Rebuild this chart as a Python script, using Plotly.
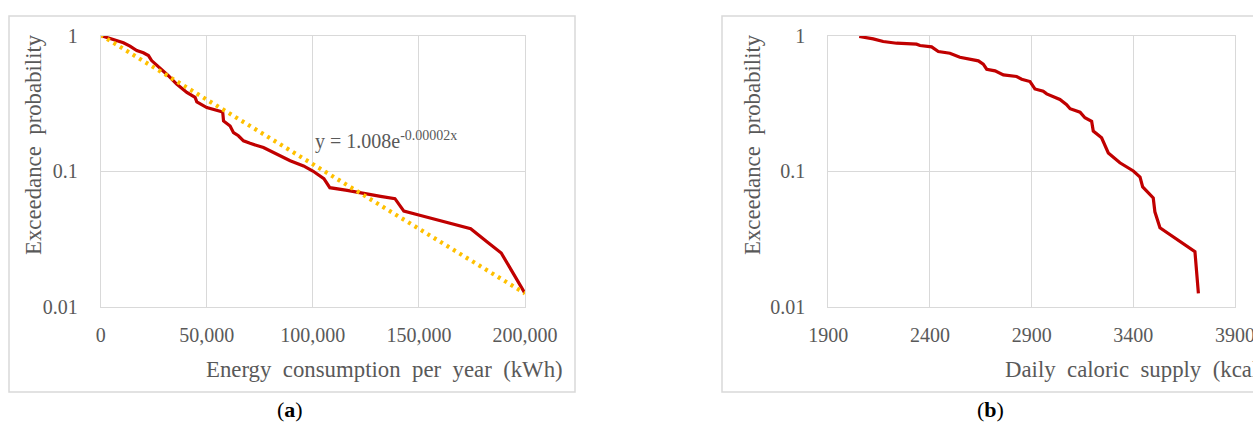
import plotly.graph_objects as go

W, H = 1253, 426

# Panel (a): energy consumption exceedance curve
energy_kwh = [0, 4400, 7550, 10700, 13800, 17000, 20100, 22500, 24000, 26400, 28800, 31900,
              35800, 40600, 44500, 45300, 50000, 55500, 57500, 57900, 61000, 62600, 64900,
              67300, 70400, 76700, 83000, 89300, 95600, 100000, 105200, 108000, 116200,
              122500, 131900, 138700, 142900, 150800, 163400, 174400, 182200, 188800, 200000]
energy_prob = [1.0, 0.955, 0.918, 0.883, 0.834, 0.774, 0.745, 0.711, 0.653, 0.606, 0.566, 0.505,
               0.438, 0.380, 0.349, 0.324, 0.294, 0.278, 0.273, 0.234, 0.215, 0.192, 0.182,
               0.167, 0.160, 0.149, 0.133, 0.119, 0.109, 0.100, 0.0878, 0.0753, 0.0720,
               0.0688, 0.0650, 0.0625, 0.0506, 0.0470, 0.0415, 0.0375, 0.0299, 0.0248, 0.0125]
# exponential trendline (straight on log axis) endpoints
trend_x = [0, 200000]
trend_y = [1.008, 0.0125]
trend_label = "y = 1.008e<sup>-0.00002x</sup>"

# Panel (b): daily caloric supply exceedance curve
kcal = [2052, 2121, 2170, 2236, 2334, 2351, 2408, 2441, 2498, 2547, 2638, 2662, 2679, 2720,
        2761, 2826, 2851, 2892, 2916, 2957, 2974, 3039, 3072, 3089, 3138, 3162, 3195, 3203,
        3244, 3261, 3277, 3334, 3400, 3433, 3446, 3498, 3506, 3531, 3703, 3720]
kcal_prob = [0.983, 0.945, 0.903, 0.877, 0.863, 0.844, 0.825, 0.762, 0.740, 0.691, 0.650, 0.614,
             0.564, 0.548, 0.512, 0.498, 0.476, 0.457, 0.403, 0.388, 0.371, 0.337, 0.309, 0.288,
             0.272, 0.247, 0.233, 0.197, 0.176, 0.153, 0.136, 0.115, 0.100, 0.0903, 0.0763,
             0.0632, 0.0500, 0.0381, 0.0254, 0.0125]

y_ticks = [0.01, 0.1, 1]
y_tick_text = ["0.01", "0.1", "1"]
xa_ticks = [0, 50000, 100000, 150000, 200000]
xa_tick_text = ["0", "50,000", "100,000", "150,000", "200,000"]
xb_ticks = [1900, 2400, 2900, 3400, 3900]
xb_tick_text = ["1900", "2400", "2900", "3400", "3900"]

RED = "#C00000"
ORANGE = "#FFC000"
GRID = "#D9D9D9"
TXT = "#595959"
FONT = "Liberation Serif"


def px(x):
    return x / W


def py(y):
    return 1 - y / H


fig = go.Figure()
fig.add_trace(go.Scatter(x=energy_kwh, y=energy_prob, mode="lines",
                         line=dict(color=RED, width=3.2), xaxis="x", yaxis="y",
                         showlegend=False, hoverinfo="skip"))
fig.add_trace(go.Scatter(x=trend_x, y=trend_y, mode="lines",
                         line=dict(color=ORANGE, width=4.2, dash="3px,4.5px"), xaxis="x", yaxis="y",
                         showlegend=False, hoverinfo="skip"))
fig.add_trace(go.Scatter(x=kcal, y=kcal_prob, mode="lines",
                         line=dict(color=RED, width=3.2), xaxis="x2", yaxis="y2",
                         showlegend=False, hoverinfo="skip"))

ydom = [py(306.5), py(35.5)]
axis_common = dict(showgrid=True, gridcolor=GRID, gridwidth=1, showline=True, linecolor=GRID,
                   linewidth=1, mirror=True, zeroline=False, ticks="", automargin=False,
                   ticklabeloverflow="allow",
                   tickfont=dict(family=FONT, size=20, color=TXT))

fig.update_layout(
    width=W, height=H, margin=dict(l=0, r=0, t=0, b=0, pad=0, autoexpand=False),
    paper_bgcolor="white", plot_bgcolor="white",
    xaxis=dict(domain=[px(100.7), px(525)], range=[0, 200000], tickvals=xa_ticks,
               ticktext=xa_tick_text, anchor="y", ticklabelstandoff=10, **axis_common),
    yaxis=dict(domain=ydom, type="log", range=[-2, 0], tickvals=y_ticks, ticktext=y_tick_text,
               anchor="x", ticklabelstandoff=18, **axis_common),
    xaxis2=dict(domain=[px(828.3), px(1235)], range=[1900, 3900], tickvals=xb_ticks,
                ticktext=xb_tick_text, anchor="y2", ticklabelstandoff=10, **axis_common),
    yaxis2=dict(domain=ydom, type="log", range=[-2, 0], tickvals=y_ticks, ticktext=y_tick_text,
                anchor="x2", ticklabelstandoff=18, **axis_common),
)

# panel frames
for x0, x1 in [(9, 575), (722, 1290)]:
    fig.add_shape(type="rect", xref="paper", yref="paper", x0=px(x0), x1=px(x1),
                  y0=py(392), y1=py(16), line=dict(color=GRID, width=1.5), fillcolor="rgba(0,0,0,0)",
                  layer="below")

title_font = dict(family=FONT, size=22.8, color=TXT)
annos = [
    dict(text="Energy  consumption  per  year  (kWh)", x=px(565), y=py(369), xanchor="right",
         yanchor="middle", font=title_font),
    dict(text="Daily  caloric  supply  (kcal)", x=px(1003), y=py(369), xanchor="left",
         yanchor="middle", font=title_font),
    dict(text="Exceedance  probability", x=px(33), y=py(145), textangle=-90, xanchor="center",
         yanchor="middle", font=title_font),
    dict(text="Exceedance  probability", x=px(752), y=py(145), textangle=-90, xanchor="center",
         yanchor="middle", font=title_font),
    dict(text="(<b>a</b>)", x=px(290), y=py(409), xanchor="center", yanchor="middle",
         font=dict(family=FONT, size=22, color="black")),
    dict(text="(<b>b</b>)", x=px(990), y=py(409), xanchor="center", yanchor="middle",
         font=dict(family=FONT, size=22, color="black")),
]
for a in annos:
    fig.add_annotation(xref="paper", yref="paper", showarrow=False, **a)

fig.add_annotation(xref="x", yref="y", x=100000, y=-0.775, text=trend_label, showarrow=False,
                   xanchor="left", yanchor="middle", font=dict(family=FONT, size=20, color=TXT))

fig.write_html("out.html", config={"displayModeBar": False},
               post_script="document.body.style.margin='0px';document.body.style.overflow='hidden';")
